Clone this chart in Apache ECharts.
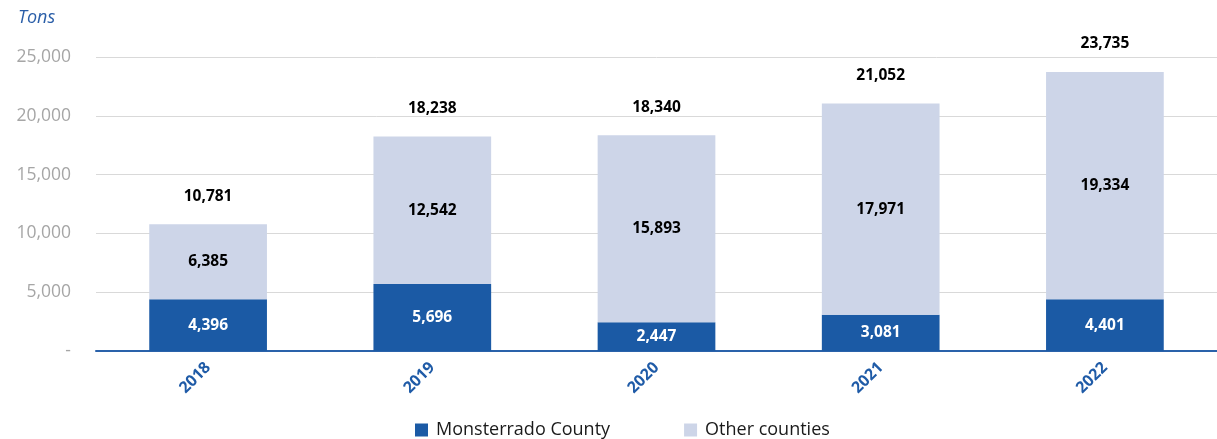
<!DOCTYPE html>
<html>
<head>
<meta charset="utf-8">
<style>
  html, body { margin: 0; padding: 0; background: #ffffff; }
  #chart { width: 1217px; height: 439px; }
</style>
<script src="https://cdn.jsdelivr.net/npm/echarts@6/dist/echarts.min.js"></script>
</head>
<body>
<div id="chart"></div>
<script>
// Tonnage by year: Monsterrado County vs. the rest of the counties
const years = ['2018', '2019', '2020', '2021', '2022'];
const monsterrado = [4396, 5696, 2447, 3081, 4401];
const otherCounties = [6385, 12542, 15893, 17971, 19334];
const totals = [10781, 18238, 18340, 21052, 23735];
const yTicks = [0, 5000, 10000, 15000, 20000, 25000];

const FONT = '"Open Sans", "Noto Sans", sans-serif';
const fmt = v => v.toLocaleString('en-US');

const chart = echarts.init(document.getElementById('chart'), null, { renderer: 'canvas' });

chart.setOption({
  animation: false,
  textStyle: { fontFamily: FONT },
  grid: { left: 96, right: 0, top: 57, bottom: 88 },
  graphic: [{
    type: 'text', left: 18, top: 9,
    style: { text: 'Tons', fontFamily: FONT, fontSize: 18, fontStyle: 'italic', fill: '#2a5ea8' }
  }],
  legend: {
    top: 416, left: 410,
    itemWidth: 13, itemHeight: 13, itemGap: 74,
    icon: 'rect',
    textStyle: { fontFamily: FONT, fontSize: 18, color: '#1a1a1a', padding: [0, 0, 0, 3] },
    data: ['Monsterrado County', 'Other counties']
  },
  xAxis: {
    type: 'category',
    data: years,
    axisLine: { lineStyle: { color: '#2a62aa', width: 2 } },
    axisTick: { show: false },
    axisLabel: {
      rotate: 45, margin: 14,
      color: '#1f5ba7', fontWeight: 'bold', fontSize: 16, fontFamily: FONT
    }
  },
  yAxis: {
    type: 'value',
    min: yTicks[0], max: yTicks[yTicks.length - 1], interval: 5000,
    axisLine: { show: false },
    axisTick: { show: false },
    splitLine: { lineStyle: { color: '#d9d9d9', width: 1 } },
    axisLabel: {
      margin: 25, color: '#a6a6a6', fontSize: 17.5, fontFamily: FONT,
      formatter: v => v === 0 ? '-' : fmt(v)
    }
  },
  series: [
    {
      name: 'Monsterrado County', type: 'bar', stack: 'tons',
      barWidth: '52.5%',
      data: monsterrado,
      itemStyle: { color: '#1b5aa5' },
      label: {
        show: true, position: 'inside', color: '#ffffff',
        fontWeight: 'bold', fontSize: 15.5, fontFamily: FONT,
        formatter: p => fmt(p.value)
      }
    },
    {
      name: 'Other counties', type: 'bar', stack: 'tons',
      data: otherCounties,
      itemStyle: { color: '#cdd5e8' },
      label: {
        show: true, position: 'inside', color: '#000000',
        fontWeight: 'bold', fontSize: 15.5, fontFamily: FONT,
        formatter: p => fmt(p.value)
      }
    },
    {
      name: 'Total', type: 'scatter',
      data: totals,
      symbolSize: 0,
      silent: true,
      itemStyle: { opacity: 1, color: '#000000' },
      label: {
        show: true, position: 'top', distance: 20, color: '#000000',
        fontWeight: 'bold', fontSize: 15.5, fontFamily: FONT,
        formatter: p => fmt(p.value)
      }
    }
  ]
});
</script>
</body>
</html>
